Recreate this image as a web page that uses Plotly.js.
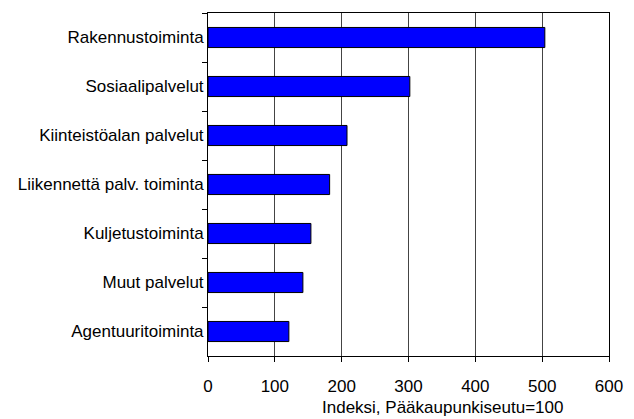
<!DOCTYPE html>
<html><head><meta charset="utf-8">
<script src="https://cdn.plot.ly/plotly-3.0.1.min.js"></script>
<style>html,body{margin:0;padding:0;background:#fff}</style>
</head><body><div id="chart" style="width:634px;height:419px"></div>
<script>
const categories = ["Rakennustoiminta","Sosiaalipalvelut","Kiinteistöalan palvelut","Liikennettä palv. toiminta","Kuljetustoiminta","Muut palvelut","Agentuuritoiminta"];
const values = [504, 302, 208, 182, 154, 142, 121];
const xTicks = [0,100,200,300,400,500,600];
const xTitle = "Indeksi, Pääkaupunkiseutu=100";

Plotly.newPlot("chart", [{
  type: "bar", orientation: "h",
  x: values, y: categories,
  marker: {color: "#0000FF", line: {color: "#000", width: 1}},
  hoverinfo: "none"
}], {
  width: 634, height: 419,
  margin: {l: 208, r: 25, t: 13, b: 63},
  paper_bgcolor: "#fff", plot_bgcolor: "#fff",
  bargap: 0.59,
  font: {family: "Liberation Sans, Arial, sans-serif", size: 17, color: "#000"},
  showlegend: false,
  xaxis: {
    range: [0, 600], tickvals: xTicks, ticktext: xTicks.map(String),
    showgrid: true, gridcolor: "#444", gridwidth: 1,
    showline: true, linecolor: "#000", linewidth: 1, mirror: true,
    ticks: "outside", ticklen: 5, tickcolor: "#000",
    ticklabelstandoff: 10,
    zeroline: false
  },
  yaxis: {
    autorange: "reversed", type: "category",
    showgrid: false, showline: true, linecolor: "#000", linewidth: 1, mirror: true,
    ticks: "outside", ticklen: 5, tickcolor: "#000", tickson: "boundaries",
    zeroline: false
  },
  annotations: [{
    text: xTitle, xref: "paper", yref: "paper",
    x: 0.587, y: -0.1516, xanchor: "center", yanchor: "middle",
    showarrow: false, font: {size: 17, color: "#000"}
  }]
}, {staticPlot: true});
</script></body></html>
